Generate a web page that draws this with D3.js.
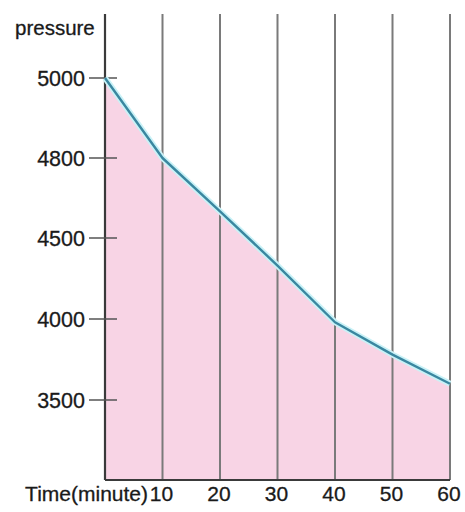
<!DOCTYPE html>
<html>
<head>
<meta charset="utf-8">
<script src="https://cdn.jsdelivr.net/npm/d3@7"></script>
<style>
  html, body { margin: 0; padding: 0; background: #fff; }
  svg { display: block; }
  text { font-family: "Liberation Sans", Arial, sans-serif; fill: #1a1a1a; stroke: #1a1a1a; stroke-width: 0.3px; }
</style>
</head>
<body>
<svg id="chart" width="465" height="512"></svg>
<script>
const times = [0, 10, 20, 30, 40, 50, 60];
const pressures = [5000, 4800, 4600, 4330, 3980, 3780, 3600];
const yTickValues = [5000, 4800, 4500, 4000, 3500];
const xTickValues = [10, 20, 30, 40, 50, 60];
const yAxisTitle = "pressure";
const xAxisTitle = "Time(minute)";

(function () {
const svg = d3.select("#chart");

const x = d3.scaleLinear().domain([0, 60]).range([105, 450]);
// the printed axis spaces its labels evenly, so the scale is piecewise linear
const y = d3.scaleLinear()
  .domain([3000, 3500, 4000, 4500, 4800, 5000])
  .range([480, 400, 319, 238, 158, 78]);

const plotTop = 14;
const data = times.map((t, i) => ({ t, p: pressures[i] }));

svg.append("path")
  .datum(data)
  .attr("fill", "#f8d4e5")
  .attr("d", d3.area().x(d => x(d.t)).y0(y(3000)).y1(d => y(d.p)));

svg.append("g").selectAll("line")
  .data(xTickValues)
  .join("line")
  .attr("x1", d => x(d)).attr("x2", d => x(d))
  .attr("y1", plotTop).attr("y2", y(3000))
  .attr("stroke", "#7a7a7a")
  .attr("stroke-width", 2);

svg.append("line")
  .attr("x1", x(0)).attr("x2", x(60))
  .attr("y1", y(3000)).attr("y2", y(3000))
  .attr("stroke", "#3a3a3a").attr("stroke-width", 2);

svg.append("line")
  .attr("x1", x(0)).attr("x2", x(0))
  .attr("y1", plotTop).attr("y2", y(3000))
  .attr("stroke", "#3a3a3a").attr("stroke-width", 2.2);

svg.append("g").selectAll("line")
  .data(yTickValues)
  .join("line")
  .attr("x1", x(0) - 16).attr("x2", x(0) + 12)
  .attr("y1", d => y(d)).attr("y2", d => y(d))
  .attr("stroke", "#555").attr("stroke-width", 1.5);

svg.append("g").selectAll("text")
  .data(yTickValues)
  .join("text")
  .attr("x", 85)
  .attr("y", d => y(d) + 8)
  .attr("text-anchor", "end")
  .attr("font-size", 21.5)
  .text(d => d);

const line = d3.line().x(d => x(d.t)).y(d => y(d.p));
svg.append("path").datum(data)
  .attr("fill", "none").attr("stroke", "#c9f2f7").attr("stroke-width", 6)
  .attr("stroke-linejoin", "round")
  .attr("d", line);
svg.append("path").datum(data)
  .attr("fill", "none").attr("stroke", "#3a87a0").attr("stroke-width", 2.4)
  .attr("stroke-linejoin", "round")
  .attr("d", line);

svg.append("g").selectAll("text")
  .data(xTickValues)
  .join("text")
  .attr("x", d => x(d) - 1)
  .attr("y", 501)
  .attr("text-anchor", "middle")
  .attr("font-size", 21)
  .text(d => d);

svg.append("text")
  .attr("x", 148).attr("y", 501)
  .attr("text-anchor", "end")
  .attr("font-size", 21)
  .text(xAxisTitle);

svg.append("text")
  .attr("x", 15).attr("y", 35)
  .attr("font-size", 20.5)
  .text(yAxisTitle);
})();
</script>
</body>
</html>
